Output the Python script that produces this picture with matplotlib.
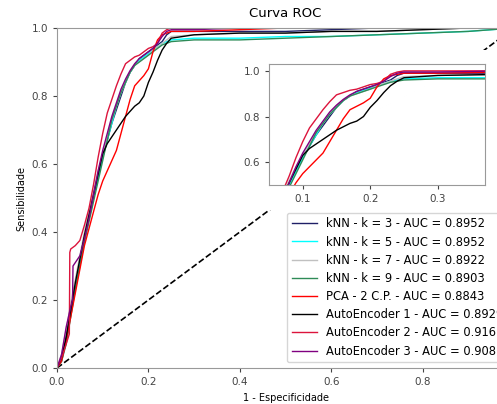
"""
Curva ROC - kNN, PCA e AutoEncoders, com zoom na regiao do joelho da curva.
"""

import matplotlib
matplotlib.use('Agg')
import matplotlib.pyplot as plt
from matplotlib.patches import Rectangle

# grade comum de 1 - especificidade
FPR = [0, 0.01, 0.02, 0.03, 0.04, 0.05, 0.06, 0.07, 0.08, 0.09, 0.10, 0.11, 0.12,
       0.13, 0.14, 0.15, 0.16, 0.17, 0.18, 0.19, 0.20, 0.21, 0.22, 0.23, 0.24, 0.25,
       0.30, 0.40, 0.50, 0.60, 0.70, 0.80, 0.90, 1.0]

TPR_KNN3 = [0, 0.03, 0.10, 0.18, 0.25, 0.32, 0.39, 0.45, 0.51, 0.57, 0.62, 0.67, 0.72,
            0.76, 0.80, 0.84, 0.87, 0.89, 0.91, 0.92, 0.93, 0.94, 0.95, 0.96, 0.98, 0.99,
            0.99, 0.99, 0.99, 0.995, 1.0, 1.0, 1.0, 1.0]
TPR_KNN5 = [0, 0.02, 0.08, 0.16, 0.24, 0.31, 0.38, 0.44, 0.50, 0.56, 0.62, 0.67, 0.72,
            0.77, 0.81, 0.84, 0.87, 0.89, 0.905, 0.915, 0.925, 0.935, 0.945, 0.955, 0.96, 0.965,
            0.97, 0.97, 0.975, 0.975, 0.98, 0.985, 0.99, 1.0]
TPR_KNN7 = [0, 0.04, 0.11, 0.19, 0.26, 0.33, 0.40, 0.46, 0.52, 0.58, 0.63, 0.68, 0.73,
            0.77, 0.81, 0.84, 0.87, 0.89, 0.90, 0.91, 0.92, 0.935, 0.945, 0.955, 0.965, 0.975,
            0.98, 0.985, 0.985, 0.99, 0.99, 0.995, 1.0, 1.0]
TPR_KNN9 = [0, 0.02, 0.07, 0.15, 0.23, 0.30, 0.37, 0.43, 0.49, 0.55, 0.61, 0.67, 0.73,
            0.77, 0.81, 0.84, 0.87, 0.89, 0.90, 0.91, 0.92, 0.93, 0.94, 0.95, 0.955, 0.96,
            0.965, 0.965, 0.97, 0.975, 0.98, 0.985, 0.99, 1.0]
TPR_PCA = [0, 0.02, 0.08, 0.15, 0.22, 0.29, 0.36, 0.41, 0.46, 0.51, 0.55, 0.58, 0.61,
           0.64, 0.69, 0.74, 0.79, 0.83, 0.845, 0.86, 0.88, 0.93, 0.965, 0.98, 0.985, 0.99,
           0.99, 0.995, 1.0, 1.0, 1.0, 1.0, 1.0, 1.0]
TPR_AE1 = [0, 0.03, 0.09, 0.17, 0.25, 0.32, 0.39, 0.45, 0.51, 0.57, 0.63, 0.66, 0.68,
           0.70, 0.72, 0.74, 0.755, 0.77, 0.78, 0.80, 0.84, 0.87, 0.905, 0.935, 0.955, 0.97,
           0.98, 0.985, 0.985, 0.99, 0.99, 0.995, 1.0, 1.0]

# AutoEncoders 2 e 3 tem um salto vertical no inicio
FPR_AE2 = [0, 0.01, 0.02, 0.027, 0.028, 0.03, 0.04, 0.05, 0.06, 0.07, 0.08, 0.09, 0.10,
           0.11, 0.12, 0.13, 0.14, 0.15, 0.16, 0.17, 0.18, 0.19, 0.20, 0.21, 0.22, 0.23,
           0.24, 0.25, 0.30, 0.40, 0.50, 0.60, 0.70, 0.80, 0.90, 1.0]
TPR_AE2 = [0, 0.03, 0.07, 0.10, 0.34, 0.35, 0.36, 0.375, 0.42, 0.47, 0.54, 0.62, 0.69,
           0.75, 0.79, 0.83, 0.865, 0.895, 0.905, 0.915, 0.92, 0.93, 0.94, 0.945, 0.955, 0.985,
           0.995, 1.0, 1.0, 1.0, 1.0, 1.0, 1.0, 1.0, 1.0, 1.0]
FPR_AE3 = [0, 0.01, 0.02, 0.03, 0.034, 0.035, 0.04, 0.05, 0.06, 0.07, 0.08, 0.09, 0.10,
           0.11, 0.12, 0.13, 0.14, 0.15, 0.16, 0.17, 0.18, 0.19, 0.20, 0.21, 0.22, 0.23,
           0.24, 0.25, 0.30, 0.40, 0.50, 0.60, 0.70, 0.80, 0.90, 1.0]
TPR_AE3 = [0, 0.04, 0.12, 0.18, 0.20, 0.30, 0.31, 0.33, 0.38, 0.44, 0.51, 0.58, 0.64,
           0.69, 0.74, 0.78, 0.82, 0.85, 0.875, 0.895, 0.91, 0.92, 0.93, 0.94, 0.955, 0.975,
           0.99, 0.995, 0.995, 1.0, 1.0, 1.0, 1.0, 1.0, 1.0, 1.0]

LABELS = ['kNN - k = 3 - AUC = 0.8952', 'kNN - k = 5 - AUC = 0.8952',
          'kNN - k = 7 - AUC = 0.8922', 'kNN - k = 9 - AUC = 0.8903',
          'PCA - 2 C.P. - AUC = 0.8843', 'AutoEncoder 1 - AUC = 0.8929',
          'AutoEncoder 2 - AUC = 0.9161', 'AutoEncoder 3 - AUC = 0.9087']
COLORS = ['#1f1f66', 'cyan', 'silver', 'seagreen', 'red', 'black', 'crimson', 'purple']

curves = [(FPR, TPR_KNN3), (FPR, TPR_KNN5), (FPR, TPR_KNN7), (FPR, TPR_KNN9),
          (FPR, TPR_PCA), (FPR, TPR_AE1), (FPR_AE2, TPR_AE2), (FPR_AE3, TPR_AE3)]

fig = plt.figure(figsize=(4.97, 4.04), dpi=100)
ax = fig.add_axes([0.1147, 0.0891, 0.9195, 0.8416])

ax.plot([0, 1], [0, 1], 'k--', linewidth=1.2)
for (x, y), lab, c in zip(curves, LABELS, COLORS):
    ax.plot(x, y, color=c, linewidth=1, label=lab)

ax.set_xlim(0, 1)
ax.set_ylim(0, 1)
ax.set_title('Curva ROC', fontsize=9.5, pad=8)
ax.set_xlabel('1 - Especificidade', fontsize=7)
ax.set_ylabel('Sensibilidade', fontsize=7)
ax.tick_params(labelsize=7.5, colors='#444', length=3)
for s in ax.spines.values():
    s.set_color('#999')
ax.legend(loc='lower right', fontsize=8.3, labelspacing=0.45, handlelength=2.2)

# zoom no joelho
axins = fig.add_axes([0.5412, 0.542, 0.4346, 0.2995], zorder=2)
for (x, y), c in zip(curves, COLORS):
    axins.plot(x, y, color=c, linewidth=1)
axins.set_xlim(0.05, 0.37)
axins.set_ylim(0.5, 1.03)
axins.set_xticks([0.1, 0.2, 0.3])
axins.set_yticks([0.6, 0.8, 1.0])
axins.tick_params(labelsize=7.5, colors='#444', length=3)
for s in axins.spines.values():
    s.set_color('#999')

# fundo branco atras do zoom (esconde a diagonal, fica abaixo da legenda)
fig.canvas.draw()
bb = axins.get_tightbbox(fig.canvas.get_renderer()).padded(6)
bb = bb.transformed(fig.transFigure.inverted())
ax.add_patch(Rectangle((bb.x0, bb.y0), bb.width, bb.height + 0.02,
                       transform=fig.transFigure, facecolor='white',
                       edgecolor='none', zorder=3))

plt.savefig('out.png', dpi=100)
